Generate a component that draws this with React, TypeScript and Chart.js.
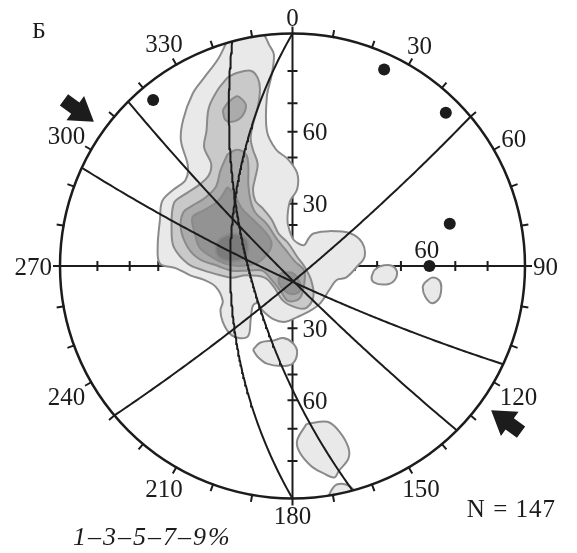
import { useEffect, useRef } from "react";
import { Chart, registerables } from "chart.js";

Chart.register(...registerables);

type Pt = [number, number];

// Net coordinates: primitive circle radius = 100, x east, y north (Wulff net, lower hemisphere)
const NET = 100;

// Azimuth ticks / labels around the primitive
const AZIMUTH_TICK_DEG = [0, 10, 20, 30, 40, 50, 60, 70, 80, 90, 100, 110, 120, 130, 140, 150, 160, 170, 180, 190, 200, 210, 220, 230, 240, 250, 260, 270, 280, 290, 300, 310, 320, 330, 340, 350];
const AZIMUTH_LABEL_DEG = [0, 30, 60, 90, 120, 150, 180, 210, 240, 270, 300, 330];
const AZIMUTH_LABELS = ["0", "30", "60", "90", "120", "150", "180", "210", "240", "270", "300", "330"];

// Angle-from-centre ticks on the N-S and E-W diameters
const AXIS_TICK_DEG = [10, 20, 30, 40, 50, 60, 70, 80];
const AXIS_LABEL_DEG = [30, 60, 30, 60, 60];
const AXIS_LABEL_TEXT = ["30", "60", "30", "60", "60"];
const AXIS_LABEL_SIDES = ["N", "N", "S", "S", "E"];

// Great circles (planes): dip direction / dip
const PLANE_DIP_DIR = [270, 255, 225, 205, 140];
const PLANE_DIP = [60, 69, 85, 83, 84];

// Single points (lineations): trend / plunge
const POINT_TREND = [320, 25, 45, 75, 90];
const POINT_PLUNGE = [4, 4, 4, 20, 29];

// Compression arrows (azimuth of placement, pointing to the centre)
const ARROW_AZIMUTHS = [306, 126];

const SAMPLE_COUNT = 147;
const CONTOUR_LEVELS = ["1", "3", "5", "7", "9"];

// Density contours (net coordinates)
const LEVEL1_MAIN: Pt[] = [
  [-28, 97], [-20, 100], [-13, 100], [-10, 95], [-8, 91], [-9, 82], [-11, 73], [-11, 58],
  [-7, 50], [-2, 46], [2, 40], [2, 33], [-1, 28], [-2, 23], [-2, 18], [0, 12], [2, 10],
  [5, 9], [7, 12], [9, 14], [16, 15], [25, 14], [30, 10], [31, 4], [28, 0], [23, -5],
  [19, -6], [16, -10], [12, -16], [8, -19], [2, -22], [-3, -24], [-8, -23], [-13, -19],
  [-15, -16], [-17, -17], [-18, -23], [-19, -30], [-23, -31], [-27, -29], [-30, -24],
  [-31, -19], [-30, -15], [-33, -9], [-38, -6], [-44, -4], [-50, -1], [-57, 1], [-58, 8],
  [-57, 20], [-56, 28], [-51, 33], [-46, 37], [-45, 43], [-48, 54], [-47, 63], [-43, 74],
  [-38, 81], [-32, 89],
];
const LEVEL1_EAST_A: Pt[] = [[35, -2], [38, 0], [43, 0], [45, -3], [43, -7], [39, -8], [35, -7], [34, -5]];
const LEVEL1_EAST_B: Pt[] = [[57, -7], [60, -5], [63, -6], [64, -9], [63, -14], [60, -16], [57, -13], [56, -9]];
const LEVEL1_SOUTH_A: Pt[] = [[-17, -36], [-14, -33], [-8, -32], [-4, -31], [0, -33], [2, -37], [0, -42], [-5, -43], [-11, -42], [-15, -39]];
const LEVEL1_SOUTH_B: Pt[] = [[6, -68], [15, -67], [20, -71], [24, -78], [24, -83], [20, -88], [18, -91], [13, -89], [8, -86], [3, -80], [2, -75]];
const LEVEL1_SOUTH_RIM: Pt[] = [[15, -100], [17, -96], [19, -94], [23, -94], [26, -96], [28, -100], [22, -102]];
const LEVEL2_MAIN: Pt[] = [
  [-28, 81], [-24, 83], [-18, 84], [-15, 81], [-14, 76], [-15, 68], [-17, 61], [-18, 55],
  [-17, 50], [-15, 44], [-16, 38], [-17, 33], [-16, 28], [-13, 25], [-9, 20], [-6, 14],
  [-2, 10], [2, 4], [5, 0], [8, -6], [9, -13], [6, -18], [2, -18], [-4, -15], [-8, -9],
  [-12, -5], [-20, -4], [-26, -5], [-31, -4], [-38, -2], [-45, 1], [-51, 8], [-52, 15],
  [-51, 27], [-46, 31], [-40, 35], [-36, 39], [-35, 44], [-38, 51], [-37, 58], [-36, 68], [-32, 76],
];
const LEVEL3_NORTH: Pt[] = [[-30, 67], [-28, 70], [-24, 73], [-22, 72], [-20, 69], [-22, 64], [-26, 62], [-29, 63]];
const LEVEL3_MAIN: Pt[] = [
  [-28, 48], [-24, 50], [-20, 48], [-19, 43], [-19, 35], [-18, 28], [-16, 23], [-11, 18],
  [-7, 12], [-3, 7], [1, 2], [5, -2], [5, -8], [3, -14], [-2, -15], [-5, -11], [-9, -6],
  [-13, -2], [-19, -2], [-26, -2], [-32, 0], [-40, 3], [-45, 8], [-48, 16], [-47, 23],
  [-43, 26], [-38, 29], [-33, 34], [-31, 41],
];
const LEVEL4_MAIN: Pt[] = [
  [-28, 34], [-25, 31], [-22, 25], [-17, 20], [-12, 15], [-9, 10], [-11, 5], [-16, 1],
  [-23, 0], [-29, 1], [-35, 4], [-40, 8], [-42, 14], [-43, 21], [-38, 24], [-32, 28],
];
const LEVEL4_NODE: Pt[] = [[-5, -3], [0, -3], [3, -7], [3, -11], [-1, -12], [-5, -9], [-6, -6]];
const LEVEL5_MAIN: Pt[] = [[-31, 12], [-26, 14], [-20, 12], [-19, 7], [-21, 3], [-27, 2], [-32, 4], [-33, 9]];

const CONTOURS: { level: number; points: Pt[] }[] = [
  { level: 0, points: LEVEL1_MAIN },
  { level: 0, points: LEVEL1_EAST_A },
  { level: 0, points: LEVEL1_EAST_B },
  { level: 0, points: LEVEL1_SOUTH_A },
  { level: 0, points: LEVEL1_SOUTH_B },
  { level: 0, points: LEVEL1_SOUTH_RIM },
  { level: 1, points: LEVEL2_MAIN },
  { level: 2, points: LEVEL3_NORTH },
  { level: 2, points: LEVEL3_MAIN },
  { level: 3, points: LEVEL4_MAIN },
  { level: 3, points: LEVEL4_NODE },
  { level: 4, points: LEVEL5_MAIN },
];

// Styles
const INK = "#1c1c1c";
const LEVEL_FILLS = ["#e9e9e9", "#c9c9c9", "#ababab", "#939393", "#7b7b7b"];
const CONTOUR_STROKE = "#8a8a8a";
const FONT_SIZE = 25;
const FONT_FAMILY = '"Liberation Serif", "DejaVu Serif", serif';
const FONT = `${FONT_SIZE}px ${FONT_FAMILY}`;
const DIGIT_H = FONT_SIZE * 0.68;
const RAD = Math.PI / 180;

function project(e: number, n: number, d: number) {
  return { x: (NET * e) / (1 + d), y: (NET * n) / (1 + d) };
}

function greatCircle(dipDir: number, dip: number) {
  const s = (dipDir - 90) * RAD;
  const dd = dipDir * RAD;
  const dp = dip * RAD;
  const S = [Math.sin(s), Math.cos(s), 0];
  const D = [Math.cos(dp) * Math.sin(dd), Math.cos(dp) * Math.cos(dd), Math.sin(dp)];
  const pts: { x: number; y: number }[] = [];
  for (let t = 0; t <= 180; t += 1) {
    const c = Math.cos(t * RAD);
    const si = Math.sin(t * RAD);
    pts.push(project(c * S[0] + si * D[0], c * S[1] + si * D[1], c * S[2] + si * D[2]));
  }
  return pts;
}

function lineation(trend: number, plunge: number) {
  const t = trend * RAD;
  const p = plunge * RAD;
  return project(Math.cos(p) * Math.sin(t), Math.cos(p) * Math.cos(t), Math.sin(p));
}

function geom(chart: any) {
  const xs = chart.scales.x;
  const ys = chart.scales.y;
  const cx = xs.getPixelForValue(0);
  const cy = ys.getPixelForValue(0);
  const R = xs.getPixelForValue(NET) - cx;
  return { cx, cy, R };
}

const netPlugin = {
  id: "wulffNet",
  beforeDatasetsDraw(chart: any) {
    const ctx = chart.ctx as CanvasRenderingContext2D;
    const { cx, cy, R } = geom(chart);
    ctx.save();
    ctx.strokeStyle = INK;
    ctx.lineWidth = 2;
    ctx.beginPath();
    ctx.moveTo(cx, cy - R);
    ctx.lineTo(cx, cy + R);
    ctx.moveTo(cx - R, cy);
    ctx.lineTo(cx + R, cy);
    for (const deg of AXIS_TICK_DEG) {
      const r = R * Math.tan((deg * RAD) / 2);
      for (const sgn of [-1, 1]) {
        ctx.moveTo(cx - 5, cy + sgn * r);
        ctx.lineTo(cx + 5, cy + sgn * r);
        ctx.moveTo(cx + sgn * r, cy - 5);
        ctx.lineTo(cx + sgn * r, cy + 5);
      }
    }
    ctx.stroke();
    ctx.fillStyle = INK;
    ctx.font = FONT;
    AXIS_LABEL_DEG.forEach((deg, i) => {
      const r = R * Math.tan((deg * RAD) / 2);
      const text = AXIS_LABEL_TEXT[i];
      const side = AXIS_LABEL_SIDES[i];
      if (side === "N" || side === "S") {
        const y = side === "N" ? cy - r : cy + r;
        ctx.textAlign = "left";
        ctx.fillText(text, cx + 10, y + DIGIT_H / 2);
      } else {
        const x = side === "E" ? cx + r : cx - r;
        ctx.textAlign = "center";
        ctx.fillText(text, x, cy - 8);
      }
    });
    ctx.restore();
    ctx.save();
    ctx.beginPath();
    ctx.arc(cx, cy, R, 0, Math.PI * 2);
    ctx.clip();
  },
  afterDatasetsDraw(chart: any) {
    const ctx = chart.ctx as CanvasRenderingContext2D;
    ctx.restore();
    const { cx, cy, R } = geom(chart);
    const area = chart.chartArea;
    ctx.save();
    ctx.strokeStyle = INK;
    ctx.lineWidth = 2.5;
    ctx.beginPath();
    ctx.arc(cx, cy, R, 0, Math.PI * 2);
    ctx.stroke();
    ctx.lineWidth = 2;
    ctx.beginPath();
    for (const deg of AZIMUTH_TICK_DEG) {
      const a = deg * RAD;
      const sa = Math.sin(a);
      const ca = Math.cos(a);
      ctx.moveTo(cx + sa * (R - 1), cy - ca * (R - 1));
      ctx.lineTo(cx + sa * (R + 7), cy - ca * (R + 7));
    }
    ctx.stroke();

    ctx.fillStyle = INK;
    ctx.font = FONT;
    ctx.textAlign = "center";
    ctx.textBaseline = "alphabetic";
    AZIMUTH_LABEL_DEG.forEach((deg, i) => {
      const text = AZIMUTH_LABELS[i];
      const a = deg * RAD;
      const sa = Math.sin(a);
      const ca = Math.cos(a);
      const w = ctx.measureText(text).width;
      const off = 8 + (Math.abs(sa) * w) / 2 + (Math.abs(ca) * DIGIT_H) / 2;
      const x = cx + sa * (R + off);
      const y = cy - ca * (R + off);
      ctx.fillText(text, x, y + DIGIT_H / 2);
    });

    // arrows
    for (const az of ARROW_AZIMUTHS) {
      const a = az * RAD;
      const ux = Math.sin(a);
      const uy = -Math.cos(a);
      const px = -uy;
      const py = ux;
      const at = (r: number, w: number): [number, number] => [cx + ux * r + px * w, cy + uy * r + py * w];
      const pts = [
        at(R + 13, 0),
        at(R + 36, 15),
        at(R + 36, 7),
        at(R + 50, 7),
        at(R + 50, -7),
        at(R + 36, -7),
        at(R + 36, -15),
      ];
      ctx.beginPath();
      ctx.moveTo(pts[0][0], pts[0][1]);
      for (let i = 1; i < pts.length; i++) ctx.lineTo(pts[i][0], pts[i][1]);
      ctx.closePath();
      ctx.fill();
    }

    // annotations
    ctx.textAlign = "left";
    ctx.font = `24px ${FONT_FAMILY}`;
    ctx.fillText("Б", area.left - 28, area.top + 4.5);
    ctx.font = FONT;
    ctx.textAlign = "right";
    (ctx as any).letterSpacing = "1px";
    ctx.fillText(`N = ${SAMPLE_COUNT}`, area.right + 31, area.bottom + 18.5);
    ctx.textAlign = "left";
    ctx.font = `italic 26px ${FONT_FAMILY}`;
    (ctx as any).letterSpacing = "2px";
    ctx.fillText(CONTOUR_LEVELS.join("–") + "%", area.left + 13, area.bottom + 46.5);
    (ctx as any).letterSpacing = "0px";
    ctx.restore();
  },
};

export default function App() {
  const ref = useRef<HTMLCanvasElement | null>(null);

  useEffect(() => {
    if (!ref.current) return;
    const datasets: any[] = [];
    CONTOURS.forEach((c) => {
      const data = c.points.map(([x, y]) => ({ x, y }));
      data.push({ x: c.points[0][0], y: c.points[0][1] });
      datasets.push({
        label: `${CONTOUR_LEVELS[c.level]}%`,
        data,
        showLine: true,
        fill: "shape",
        backgroundColor: LEVEL_FILLS[c.level],
        borderColor: CONTOUR_STROKE,
        borderWidth: 2,
        pointRadius: 0,
        pointHitRadius: 0,
        tension: 0.35,
      });
    });
    PLANE_DIP_DIR.forEach((dd, i) => {
      datasets.push({
        label: `plane ${dd}/${PLANE_DIP[i]}`,
        data: greatCircle(dd, PLANE_DIP[i]),
        showLine: true,
        fill: false,
        borderColor: INK,
        borderWidth: 2,
        pointRadius: 0,
        pointHitRadius: 0,
        tension: 0,
      });
    });
    datasets.push({
      label: "lineations",
      data: POINT_TREND.map((t, i) => lineation(t, POINT_PLUNGE[i])),
      showLine: false,
      pointRadius: 6,
      pointBorderWidth: 0,
      backgroundColor: INK,
      borderColor: INK,
    });
    const total = datasets.length;
    datasets.forEach((d, i) => (d.order = total - i));

    const chart = new Chart(ref.current, {
      type: "scatter",
      data: { datasets },
      options: {
        animation: false,
        responsive: false,
        events: [],
        layout: { padding: { left: 60, right: 52, top: 33.5, bottom: 54.5 } },
        scales: {
          x: { type: "linear", min: -NET, max: NET, display: false },
          y: { type: "linear", min: -NET, max: NET, display: false },
        },
        plugins: { legend: { display: false }, tooltip: { enabled: false } },
      },
      plugins: [netPlugin],
    } as any);
    return () => chart.destroy();
  }, []);

  return (
    <div style={{ position: "absolute", left: 0, top: 0, width: 577, height: 553, background: "#fff" }}>
      <canvas ref={ref} width={577} height={553} style={{ display: "block" }} />
    </div>
  );
}
